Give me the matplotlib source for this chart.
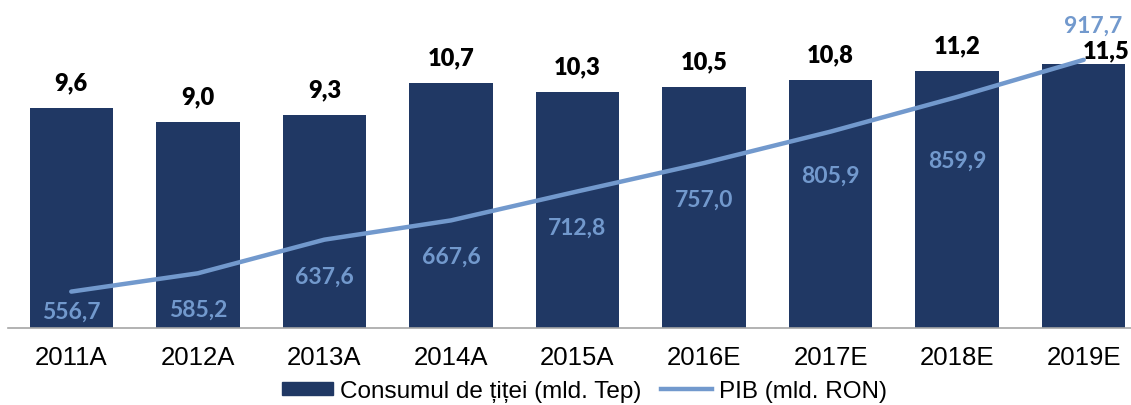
import numpy as np
import matplotlib.pyplot as plt

years = ["2011A", "2012A", "2013A", "2014A", "2015A", "2016E", "2017E", "2018E", "2019E"]
consum = [9.6, 9.0, 9.3, 10.7, 10.3, 10.5, 10.8, 11.2, 11.5]
pib = [556.7, 585.2, 637.6, 667.6, 712.8, 757.0, 805.9, 859.9, 917.7]

bar_color = '#203864'
line_color = '#7299CD'

def fmt(v):
    return f"{v:.1f}".replace('.', ',')

fig = plt.figure(figsize=(11.31, 4.06), dpi=100)
ax = fig.add_axes([8/1131, 77/406, 1139/1131, 321/406])
x = np.arange(len(years))

ax.bar(x, consum, width=0.66, color=bar_color, zorder=2)
ax.set_xlim(-0.5, len(years) - 0.5)
ax.set_ylim(0, 14)
ax.set_yticks([])
ax.set_xticks(x)
ax.set_xticklabels(years, fontsize=18.5, family='Liberation Sans')
ax.tick_params(axis='x', length=0, pad=12)
for s in ['top', 'right', 'left']:
    ax.spines[s].set_visible(False)
ax.spines['bottom'].set_color('#A6A6A6')
ax.spines['bottom'].set_linewidth(1.2)

# bar value labels (last one nudged, like the original)
for i, v in enumerate(consum):
    dx, dy = (16, 10) if i == len(consum) - 1 else (0, 18.5)
    ax.annotate(fmt(v), (x[i], v), xytext=(dx, dy), textcoords='offset points',
                ha='center', va='center', fontsize=17, fontweight='heavy',
                family='Lato', color='black')

ax2 = ax.twinx()
ax2.set_ylim(500, 1000)
ax2.axis('off')
ax2.plot(x, pib, color=line_color, linewidth=3.2, solid_capstyle='round', zorder=3)

pib_dy = [-14.4, -26, -26, -26, -26, -26, -31.7, -45.4, 25.2]
for i, v in enumerate(pib):
    dx = 7 if i == len(pib) - 1 else 0
    ax2.annotate(fmt(v), (x[i], v), xytext=(dx, pib_dy[i]), textcoords='offset points',
                 ha='center', va='center', fontsize=16.5, family='Lato',
                 fontweight='bold', color=line_color)

h1 = plt.Rectangle((0, 0), 1, 1, color=bar_color)
h2 = plt.Line2D([], [], color=line_color, linewidth=3.2)
fig.legend([h1, h2], ["Consumul de țiței (mld. Tep)", "PIB (mld. RON)"],
           loc='center', bbox_to_anchor=(0.517, 14/406), ncol=2, frameon=False,
           prop={'family': 'Liberation Sans', 'size': 17.5},
           handlelength=2.1, handleheight=0.45, handletextpad=0.3, columnspacing=0.8)

fig.savefig('out.png', dpi=100)
